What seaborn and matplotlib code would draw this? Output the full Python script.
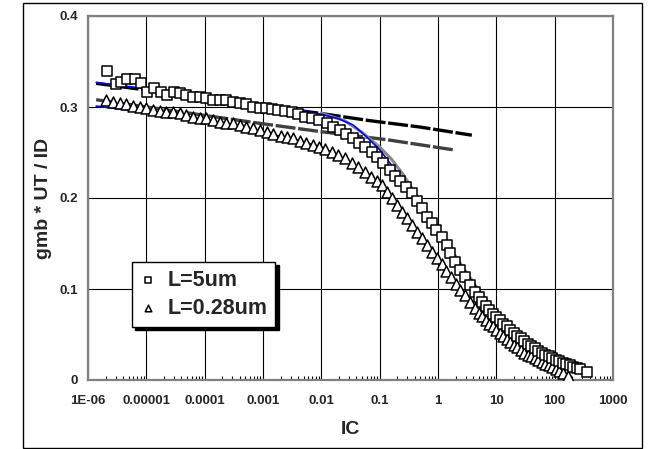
import matplotlib
matplotlib.use("Agg")
import matplotlib.pyplot as plt
import seaborn as sns
from matplotlib.patches import Rectangle
from matplotlib.ticker import FixedLocator, LogLocator, NullFormatter

sns.set_theme(style="white")
plt.rcParams['font.family'] = ['Liberation Sans', 'DejaVu Sans']
plt.rcParams['font.weight'] = 'bold'

# ---- measured gm*UT/ID versus inversion coefficient ----
ic_5um = [2.14e-6, 3.02e-6, 3.72e-6, 4.68e-6, 6.46e-6, 8.13e-6, 1.02e-5, 1.35e-5,
          1.78e-5, 2.24e-5, 2.95e-5, 3.80e-5, 4.79e-5, 6.31e-5, 8.32e-5, 1.05e-4,
          1.38e-4, 1.82e-4, 2.34e-4, 3.09e-4, 4.07e-4, 5.13e-4, 6.76e-4, 8.91e-4,
          1.12e-3, 1.41e-3, 1.82e-3, 2.40e-3, 3.16e-3, 3.98e-3, 5.25e-3, 6.92e-3,
          9.12e-3, 1.26e-2, 1.58e-2, 2.09e-2, 2.63e-2, 3.47e-2, 4.47e-2, 5.62e-2,
          7.41e-2, 8.91e-2, 0.115, 0.151, 0.182, 0.224, 0.282, 0.355, 0.437,
          0.537, 0.646, 0.794, 0.933, 1.17, 1.41, 1.62, 1.95, 2.40, 2.88, 3.55,
          4.27, 5.01, 5.75, 6.61, 7.59, 8.71, 10.0, 11.5, 13.2, 15.1, 17.4, 20.0,
          22.9, 26.3, 30.2, 34.7, 39.8, 45.7, 52.5, 60.3, 69.2, 79.4, 91.2, 105,
          120, 138, 158, 182, 209, 240, 275, 355]
gm_5um = [0.340, 0.325, 0.327, 0.331, 0.331, 0.326, 0.316, 0.321,
          0.316, 0.313, 0.316, 0.315, 0.313, 0.311, 0.311, 0.310,
          0.308, 0.308, 0.308, 0.305, 0.304, 0.303, 0.300, 0.299,
          0.299, 0.298, 0.297, 0.296, 0.295, 0.292, 0.289, 0.288,
          0.286, 0.282, 0.278, 0.275, 0.270, 0.266, 0.260, 0.256,
          0.251, 0.245, 0.238, 0.231, 0.224, 0.219, 0.212, 0.205, 0.197,
          0.189, 0.179, 0.172, 0.165, 0.157, 0.148, 0.140, 0.130, 0.121, 0.113, 0.104,
          0.097, 0.091, 0.086, 0.081, 0.077, 0.073, 0.069, 0.066, 0.062, 0.059, 0.055, 0.052,
          0.048, 0.046, 0.043, 0.040, 0.037, 0.035, 0.032, 0.030, 0.028, 0.026, 0.024, 0.022,
          0.021, 0.019, 0.018, 0.016, 0.014, 0.013, 0.012, 0.009]

ic_028um = [2.06e-6, 2.69e-6, 3.49e-6, 4.54e-6, 5.90e-6, 7.69e-6, 1.00e-5, 1.30e-5,
            1.69e-5, 2.20e-5, 2.86e-5, 3.72e-5, 4.85e-5, 6.31e-5, 8.20e-5, 1.07e-4,
            1.39e-4, 1.81e-4, 2.35e-4, 3.06e-4, 3.98e-4, 5.18e-4, 6.75e-4, 8.77e-4,
            1.15e-3, 1.51e-3, 2.00e-3, 2.57e-3, 3.31e-3, 4.27e-3, 5.50e-3, 7.08e-3,
            9.12e-3, 1.17e-2, 1.51e-2, 1.95e-2, 2.57e-2, 3.39e-2, 4.27e-2, 5.62e-2,
            7.24e-2, 8.91e-2, 0.110, 0.135, 0.162, 0.200, 0.240, 0.295, 0.355,
            0.437, 0.537, 0.646, 0.794, 0.955, 1.15, 1.38, 1.66, 2.00, 2.40, 2.88,
            3.55, 4.27, 5.01, 5.75, 6.61, 7.59, 8.71, 10.0, 11.5, 13.2, 15.1, 17.4,
            20.0, 22.9, 26.3, 30.2, 34.7, 39.8, 45.7, 52.5, 60.3, 69.2, 79.4, 91.2,
            105, 120, 138, 166]
gm_028um = [0.308, 0.306, 0.304, 0.303, 0.3015, 0.300, 0.2985, 0.297,
            0.2956, 0.295, 0.294, 0.293, 0.291, 0.289, 0.288, 0.2875,
            0.286, 0.284, 0.282, 0.282, 0.280, 0.278, 0.277, 0.275,
            0.273, 0.270, 0.268, 0.267, 0.266, 0.263, 0.260, 0.258,
            0.256, 0.254, 0.251, 0.247, 0.244, 0.238, 0.234, 0.229,
            0.223, 0.219, 0.214, 0.207, 0.200, 0.192, 0.185, 0.178, 0.170,
            0.163, 0.156, 0.148, 0.141, 0.134, 0.127, 0.120, 0.113, 0.106, 0.099, 0.093,
            0.086, 0.079, 0.074, 0.070, 0.066, 0.062, 0.059, 0.055, 0.052, 0.048, 0.045, 0.042,
            0.039, 0.036, 0.033, 0.030, 0.028, 0.026, 0.024, 0.022, 0.020, 0.018, 0.016, 0.014,
            0.012, 0.010, 0.008, 0.004]

# ---- model curves ----
model_ic_5um = [1.38e-6, 1e-5, 1e-4, 1e-3, 3.98e-3, 1e-2, 2.0e-2, 3.55e-2, 6.03e-2,
                0.1, 0.170, 0.257, 0.398, 0.631, 1.0, 1.78, 3.16, 5.62, 10.0, 31.6, 100]
model_gm_5um = [0.327, 0.320, 0.311, 0.302, 0.297, 0.292, 0.287, 0.280, 0.267,
                0.253, 0.234, 0.220, 0.203, 0.183, 0.163, 0.140, 0.116, 0.093, 0.072, 0.044, 0.024]

fit_ic_5um = [1e-2, 2.51e-2, 5.01e-2, 0.1, 0.158, 0.251, 0.398, 0.631, 1.0, 1.78, 3.16, 5.62, 10.0]
fit_gm_5um = [0.293, 0.285, 0.272, 0.256, 0.243, 0.226, 0.206, 0.185, 0.165, 0.141, 0.117, 0.094, 0.073]

model_ic_028um = [1.38e-6, 1e-5, 1e-4, 1e-3, 3.16e-3, 1e-2, 2.51e-2, 5.01e-2, 0.1,
                  0.2, 0.398, 0.794, 1.58, 3.16, 10.0]
model_gm_028um = [0.301, 0.294, 0.285, 0.272, 0.265, 0.256, 0.243, 0.230, 0.214,
                  0.190, 0.165, 0.139, 0.113, 0.089, 0.054]

# ---- weak-inversion asymptotes ----
wi_ic_5um = [1.38e-6, 9.55e-3, 6.76e-2, 0.490, 3.80]
wi_gm_5um = [0.326, 0.293, 0.285, 0.278, 0.269]
wi_ic_028um = [1.38e-6, 8.91e-4, 9.55e-3, 0.135, 1.80]
wi_gm_028um = [0.308, 0.282, 0.273, 0.264, 0.253]

x_ticks = [1e-6, 1e-5, 1e-4, 1e-3, 1e-2, 1e-1, 1, 10, 100, 1000]
x_tick_labels = ['1E-06', '0.00001', '0.0001', '0.001', '0.01', '0.1', '1', '10', '100', '1000']
y_ticks = [0, 0.1, 0.2, 0.3, 0.4]
y_tick_labels = ['0', '0.1', '0.2', '0.3', '0.4']

W, H = 648, 449
fig = plt.figure(figsize=(W / 100, H / 100), dpi=100)
fig.patch.set_facecolor('white')
fig.patches.append(Rectangle((23 / W, 1 / H), (642 - 23) / W, (448 - 3) / H,
                             transform=fig.transFigure, fill=False,
                             edgecolor='black', linewidth=1.0))

ax = fig.add_axes([88 / W, (H - 380) / H, (613 - 88) / W, (380 - 16) / H])
ax.set_facecolor('white')
ax.set_xscale('log')

dash = (0, (6, 0.8))
sns.lineplot(x=wi_ic_5um, y=wi_gm_5um, ax=ax, color='black', linewidth=2.4,
             linestyle=dash, sort=False, estimator=None, legend=False, zorder=2)
sns.lineplot(x=wi_ic_028um, y=wi_gm_028um, ax=ax, color='#404040', linewidth=2.4,
             linestyle=dash, sort=False, estimator=None, legend=False, zorder=2)
sns.lineplot(x=fit_ic_5um, y=fit_gm_5um, ax=ax, color='#8a8a8a', linewidth=2.2,
             sort=False, estimator=None, legend=False, zorder=2)
sns.lineplot(x=model_ic_5um, y=model_gm_5um, ax=ax, color='#0000ff', linewidth=1.2,
             sort=False, estimator=None, legend=False, zorder=2.5)
sns.lineplot(x=model_ic_028um, y=model_gm_028um, ax=ax, color='#0000ff', linewidth=1.2,
             sort=False, estimator=None, legend=False, zorder=2.5)

sns.scatterplot(x=ic_028um, y=gm_028um, ax=ax, marker='^', s=62, color='white',
                edgecolor='black', linewidth=1.1, label='L=0.28um', zorder=4)
sns.scatterplot(x=ic_5um, y=gm_5um, ax=ax, marker='s', s=52, color='white',
                edgecolor='black', linewidth=1.1, label='L=5um', zorder=4)

ax.set_xlim(1e-6, 1e3)
ax.set_ylim(0, 0.4)
ax.xaxis.set_major_locator(FixedLocator(x_ticks))
ax.set_xticklabels(x_tick_labels)
ax.xaxis.set_minor_locator(LogLocator(base=10, subs=range(2, 10), numticks=30))
ax.xaxis.set_minor_formatter(NullFormatter())
ax.set_yticks(y_ticks)
ax.set_yticklabels(y_tick_labels)

ax.tick_params(axis='x', which='major', length=0, pad=11, labelsize=9.5)
ax.tick_params(axis='x', which='minor', direction='in', length=3, width=0.8,
               color='black', bottom=True, top=False)
ax.tick_params(axis='y', which='major', length=0, pad=7, labelsize=9.5)
for lab in ax.get_xticklabels() + ax.get_yticklabels():
    lab.set_fontweight('bold')

ax.grid(True, which='major', color='black', linewidth=0.8)
ax.set_axisbelow(True)
for sp in ax.spines.values():
    sp.set_color('#808080')
    sp.set_linewidth(1.6)
    sp.set_visible(True)

ax.set_xlabel('IC', fontsize=14, fontweight='bold', va='center')
ax.xaxis.set_label_coords((350 - 88) / 525, (380 - 430) / 364)
ax.set_ylabel('gmb * UT / ID', fontsize=14, fontweight='bold', va='center')
ax.yaxis.set_label_coords((44 - 88) / 525, 0.5)

handles, labels = ax.get_legend_handles_labels()
order = [labels.index('L=5um'), labels.index('L=0.28um')]
leg = ax.legend([handles[i] for i in order], [labels[i] for i in order],
                loc='upper left', bbox_to_anchor=((132 - 88) / 525, (380 - 262) / 364),
                borderaxespad=0, frameon=True, fancybox=False, edgecolor='black',
                framealpha=1, shadow={'color': 'black', 'alpha': 1, 'ox': 2.5, 'oy': -2.5},
                prop={'weight': 'bold', 'size': 15.5}, markerscale=0.6,
                handlelength=0.8, handletextpad=0.5, borderpad=0.35, labelspacing=0.35)
leg.get_frame().set_linewidth(1.0)
leg.set_zorder(10)

fig.savefig('out.png', dpi=100, facecolor='white')
